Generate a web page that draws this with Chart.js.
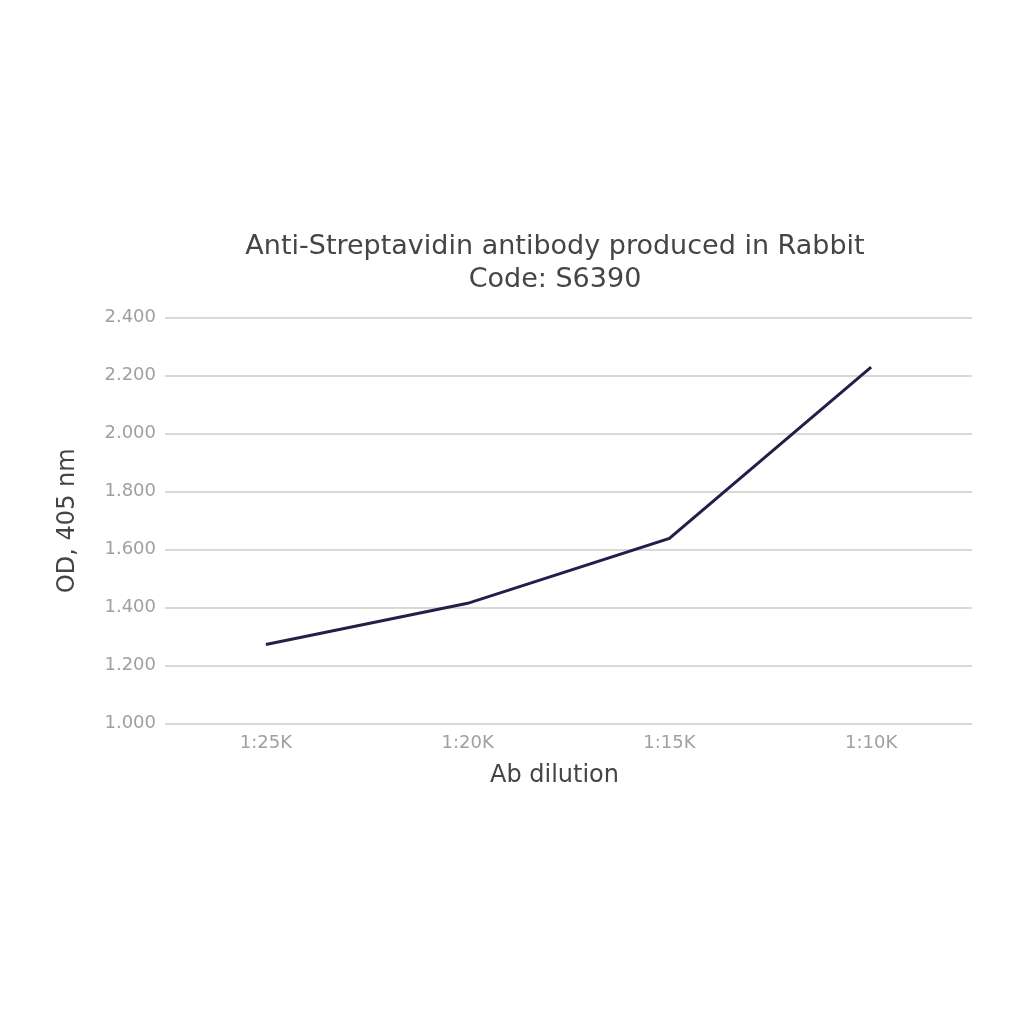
<!DOCTYPE html>
<html>
<head>
<meta charset="utf-8">
<script src="https://cdn.jsdelivr.net/npm/chart.js@4"></script>
<style>
html,body{margin:0;padding:0;background:#fff;overflow:hidden;width:1024px;height:1024px;}
#wrap{position:absolute;left:0;top:0;width:1110px;height:1024px;}
</style>
</head>
<body>
<div id="wrap"><canvas id="c"></canvas></div>
<script>
const categories = ["1:25K", "1:20K", "1:15K", "1:10K"];
const odValues = [1.273, 1.415, 1.639, 2.230];
const titleLines = ["Anti-Streptavidin antibody produced in Rabbit", "Code: S6390"];
const xTitle = "Ab dilution";
const yTitle = "OD, 405 nm";
const yMin = 1.0, yMax = 2.4, yStep = 0.2;

// Let the axes' text use the space left of the padded box, so the
// chart title and the x-axis title sit where the reference has them.
const axisBoxes = {
  id: 'axisBoxes',
  afterLayout(chart) {
    const y = chart.scales.y;
    y.left = 40;
    y.width = y.right - y.left;
    const x = chart.scales.x;
    x.left = 137;
    x.width = x.right - x.left;
  }
};

new Chart(document.getElementById('c'), {
  type: 'line',
  data: {
    labels: categories,
    datasets: [{
      data: odValues,
      borderColor: '#20204a',
      borderWidth: 3,
      pointRadius: 0,
      tension: 0,
      fill: false
    }]
  },
  plugins: [axisBoxes],
  options: {
    responsive: true,
    maintainAspectRatio: false,
    animation: false,
    devicePixelRatio: 1,
    layout: { padding: { top: 231, bottom: 234, left: 138, right: 138 } },
    plugins: {
      legend: { display: false },
      tooltip: { enabled: false },
      title: {
        display: true,
        text: titleLines,
        color: '#454545',
        font: { family: 'DejaVu Sans', size: 27, weight: 'normal', lineHeight: 1.2 },
        padding: { top: 0, bottom: 22 }
      }
    },
    scales: {
      x: {
        offset: true,
        grid: { display: false, drawTicks: false },
        border: { display: false },
        ticks: { color: '#a0a0a0', font: { family: 'DejaVu Sans', size: 18 }, padding: 9 },
        title: { display: true, text: xTitle, color: '#454545', font: { family: 'DejaVu Sans', size: 24 }, padding: { top: -2, bottom: 0 } }
      },
      y: {
        min: yMin, max: yMax,
        afterFit: (axis) => { axis.width = 27; },
        grid: { color: '#d9d9d9', lineWidth: 2, drawTicks: false },
        border: { display: false },
        ticks: {
          stepSize: yStep,
          color: '#a0a0a0',
          font: { family: 'DejaVu Sans', size: 18 },
          padding: 9,
          callback: v => v.toFixed(3)
        },
        title: { display: true, text: yTitle, color: '#454545', font: { family: 'DejaVu Sans', size: 24 }, padding: { top: 13, bottom: 0 } }
      }
    }
  }
});
</script>
</body>
</html>
